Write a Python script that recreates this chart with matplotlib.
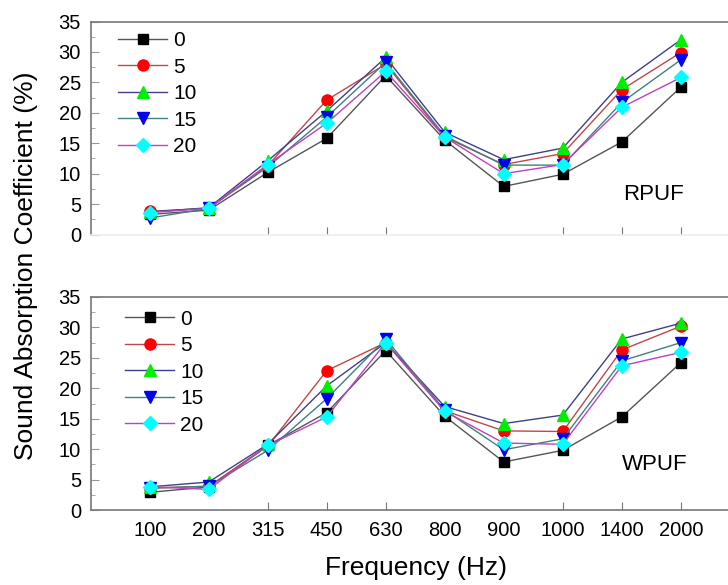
import numpy as np
import matplotlib
matplotlib.use('Agg')
import matplotlib.pyplot as plt
from matplotlib.ticker import MultipleLocator

plt.rcParams['font.family'] = ['Liberation Sans', 'DejaVu Sans']

freqs = ['100', '200', '315', '450', '630', '800', '900', '1000', '1400', '2000']
labels = ['0', '5', '10', '15', '20']

# RPUF panel
rpuf_0 = [3.3, 4.0, 10.2, 15.8, 26.1, 15.5, 7.9, 9.9, 15.2, 24.2]
rpuf_5 = [3.8, 4.3, 11.3, 22.1, 28.0, 16.0, 11.5, 13.3, 23.8, 29.9]
rpuf_10 = [3.7, 4.4, 12.1, 20.3, 29.1, 16.8, 12.3, 14.2, 25.0, 32.0]
rpuf_15 = [2.7, 4.3, 11.1, 19.3, 28.3, 16.2, 11.4, 11.4, 21.7, 28.7]
rpuf_20 = [3.6, 4.3, 11.5, 18.3, 26.8, 16.0, 10.0, 11.5, 20.9, 25.8]

# WPUF panel
wpuf_0 = [2.9, 3.8, 10.6, 16.0, 26.2, 15.4, 7.9, 9.8, 15.3, 24.2]
wpuf_5 = [3.6, 3.9, 10.5, 22.9, 27.5, 16.3, 13.0, 12.9, 26.3, 30.2]
wpuf_10 = [3.8, 4.6, 10.8, 20.4, 27.5, 17.0, 14.2, 15.6, 28.1, 30.7]
wpuf_15 = [3.6, 3.9, 9.8, 18.3, 28.1, 16.4, 9.9, 11.7, 24.5, 27.5]
wpuf_20 = [3.8, 3.4, 10.6, 15.3, 27.5, 16.2, 11.0, 10.8, 23.7, 25.9]

markers = ['s', 'o', '^', 'v', 'D']
face_colors = ['black', 'red', '#00ee00', '#0000ee', '#00ffff']
line_colors = ['#555555', '#c04848', '#404088', '#408080', '#c040c0']
marker_sizes = [6.5, 8, 8.5, 8.5, 7]

x = np.arange(1, len(freqs) + 1)

fig = plt.figure(figsize=(7.28, 5.85), dpi=100)
left = 90.7 / 728
ax_top = fig.add_axes([left, 1 - 234.5 / 585, 1 - left, 213 / 585])
ax_bot = fig.add_axes([left, 1 - 510 / 585, 1 - left, 213 / 585])


def draw_panel(ax, series, name, name_pos, show_xlabels, bottom_color, leg_anchor):
  for i, ys in enumerate(series):
    ax.plot(x, ys, color=line_colors[i], lw=1.0, marker=markers[i],
            markerfacecolor=face_colors[i], markeredgecolor=face_colors[i],
            markersize=marker_sizes[i], label=labels[i])
  ax.set_xlim(0, 10.8)
  ax.set_ylim(0, 35)
  ax.yaxis.set_major_locator(MultipleLocator(5))
  ax.yaxis.set_minor_locator(MultipleLocator(2.5))
  ax.tick_params(axis='y', which='major', direction='in', length=6, color='#999999',
                 labelsize=14.5, pad=7)
  ax.tick_params(axis='y', which='minor', direction='in', length=3, color='#999999')
  ax.set_xticks(x)
  if show_xlabels:
    ax.set_xticklabels(freqs, fontsize=14.5)
  else:
    ax.set_xticklabels([])
  ax.tick_params(axis='x', direction='in', length=6, color='#777777', pad=8)
  # only some categories carry tick marks in the original
  for idx in [0, 1, 5, 6]:
    ax.xaxis.get_major_ticks()[idx].tick1line.set_visible(False)
  ax.spines['right'].set_visible(False)
  ax.spines['top'].set_color('#777777')
  ax.spines['left'].set_color('#777777')
  ax.spines['bottom'].set_color(bottom_color)
  for s in ['top', 'left', 'bottom']:
    ax.spines[s].set_linewidth(1.2)
  ax.text(name_pos[0], name_pos[1], name, fontsize=16, ha='center', va='center')
  ax.legend(loc='upper left', bbox_to_anchor=leg_anchor, frameon=False,
            fontsize=15, handlelength=2.35, handletextpad=0.3,
            labelspacing=0.36, borderaxespad=0, borderpad=0)


draw_panel(ax_top, [rpuf_0, rpuf_5, rpuf_10, rpuf_15, rpuf_20], 'RPUF', (9.53, 6.5),
           False, '#eeeeee', (0.043, 0.955))
draw_panel(ax_bot, [wpuf_0, wpuf_5, wpuf_10, wpuf_15, wpuf_20], 'WPUF', (9.56, 7.4),
           True, '#777777', (0.054, 0.94))

fig.text(416 / 728, 1 - 568 / 585, 'Frequency (Hz)', fontsize=19, ha='center', va='center')
fig.text(26 / 728, 1 - 266 / 585, 'Sound Absorption Coefficient (%)', rotation=90,
         fontsize=19, ha='center', va='center')

fig.savefig('out.png', dpi=100)
